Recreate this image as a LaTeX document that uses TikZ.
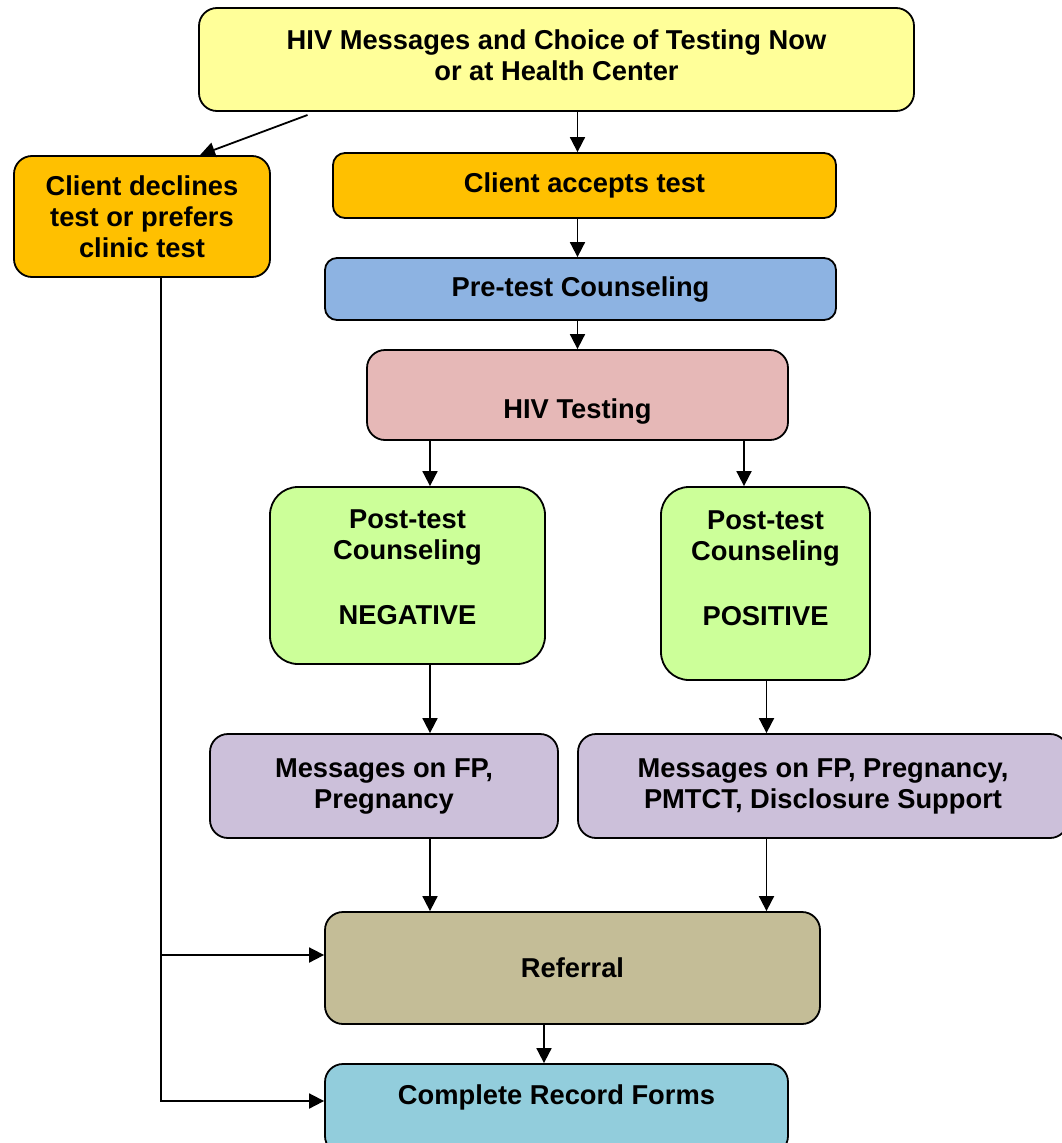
\documentclass[tikz,border=0pt]{standalone}
\usepackage{fontspec}
\setmainfont{Liberation Sans}
\usepackage{tikz}
\usetikzlibrary{arrows.meta, calc}
\definecolor{msgyellow}{RGB}{255,255,153}
\definecolor{choiceorange}{RGB}{255,192,0}
\definecolor{pretestblue}{RGB}{141,179,226}
\definecolor{testpink}{RGB}{230,184,183}
\definecolor{postgreen}{RGB}{204,255,153}
\definecolor{fplilac}{RGB}{204,192,218}
\definecolor{refertan}{RGB}{196,189,151}
\definecolor{recordcyan}{RGB}{146,205,220}

\begin{document}
\begin{tikzpicture}[x=1pt, y=-1pt,
    box/.style={rectangle, rounded corners=18pt, draw, line width=1.8pt,
                text centered, align=center, inner sep=0pt,
                font=\fontsize{27.3}{31}\selectfont\bfseries},
    arrow/.style={line width=1.8pt, -{Triangle[length=15pt, width=15pt]}}]

\fill[white] (0,0) rectangle (1062,1143);
\useasboundingbox (0,0) rectangle (1062,1143);

% Main column -- centres in pixels
\node (top) [box, fill=msgyellow, text depth=8pt, minimum width=715pt, minimum height=103pt] at (556.5, 59.5)
      {HIV Messages and Choice of Testing Now\\or at Health Center};
\node (decl) [box, fill=choiceorange, minimum width=256pt, minimum height=121pt] at (142, 216.5)
      {Client declines\\test or prefers\\clinic test};
\node (acc) [box, fill=choiceorange, rounded corners=12pt, minimum width=503pt, minimum height=65pt] at (584.5, 185.5)
      {Client accepts test};
\node (pre) [box, fill=pretestblue, rounded corners=12pt, minimum width=511pt, minimum height=62pt] at (580.5, 289)
      {Pre-test Counseling};
\node (hiv) [box, fill=testpink, text height=52pt, minimum width=421pt, minimum height=90pt] at (577.5, 395)
      {HIV Testing};

% Two branches after the test
\node (neg) [box, fill=postgreen, rounded corners=28pt, text depth=16pt, minimum width=275pt, minimum height=177pt] at (407.5, 575.5)
      {Post-test\\Counseling\\[34pt]NEGATIVE};
\node (pos) [box, fill=postgreen, rounded corners=28pt, text depth=31pt, minimum width=209pt, minimum height=193pt] at (765.5, 583.5)
      {Post-test\\Counseling\\[34pt]POSITIVE};
\node (msgneg) [box, fill=fplilac, minimum width=348pt, minimum height=104pt] at (384, 786)
      {Messages on FP,\\Pregnancy};
\node (msgpos) [box, fill=fplilac, minimum width=490pt, minimum height=104pt] at (823, 786)
      {Messages on FP, Pregnancy,\\PMTCT, Disclosure Support};

% Bottom of the flow
\node (ref) [box, fill=refertan, minimum width=495pt, minimum height=112pt] at (572.5, 968)
      {Referral};
\node (rec) [box, fill=recordcyan, text depth=29.5pt, minimum width=463pt, minimum height=90pt] at (556.5, 1109)
      {Complete Record Forms};

% Helper coordinates for the arrow columns
\coordinate (lx)    at (430, 0);
\coordinate (rx)    at (744, 0);
\coordinate (px)    at (766.5, 0);
\coordinate (midx)  at (544, 0);
\coordinate (trunk) at (161, 0);
\coordinate (dstart) at (307.5, 115);
\coordinate (refin) at ([yshift=13pt]ref.west);
\coordinate (recin) at ([yshift=8pt]rec.west);

% Vertical connections
\draw [arrow] (top.south -| hiv) -- (acc.north -| hiv);
\draw [arrow] (acc.south -| hiv) -- (pre.north -| hiv);
\draw [arrow] (pre.south -| hiv) -- (hiv.north);
\draw [arrow] (hiv.south -| lx)  -- (neg.north -| lx);
\draw [arrow] (hiv.south -| rx)  -- (pos.north -| rx);
\draw [arrow] (neg.south -| lx)  -- (msgneg.north -| lx);
\draw [arrow] (pos.south -| px)  -- (msgpos.north -| px);
\draw [arrow] (msgneg.south -| lx) -- (ref.north -| lx);
\draw [arrow] (msgpos.south -| px) -- (ref.north -| px);
\draw [arrow] (ref.south -| midx) -- (rec.north -| midx);

% Declined branch
\draw [arrow] (dstart) -- ([xshift=58pt]decl.north);
\draw [arrow] (decl.south -| trunk) |- (recin);
\draw [arrow] (refin -| trunk) -- (refin);

\end{tikzpicture}
\end{document}
